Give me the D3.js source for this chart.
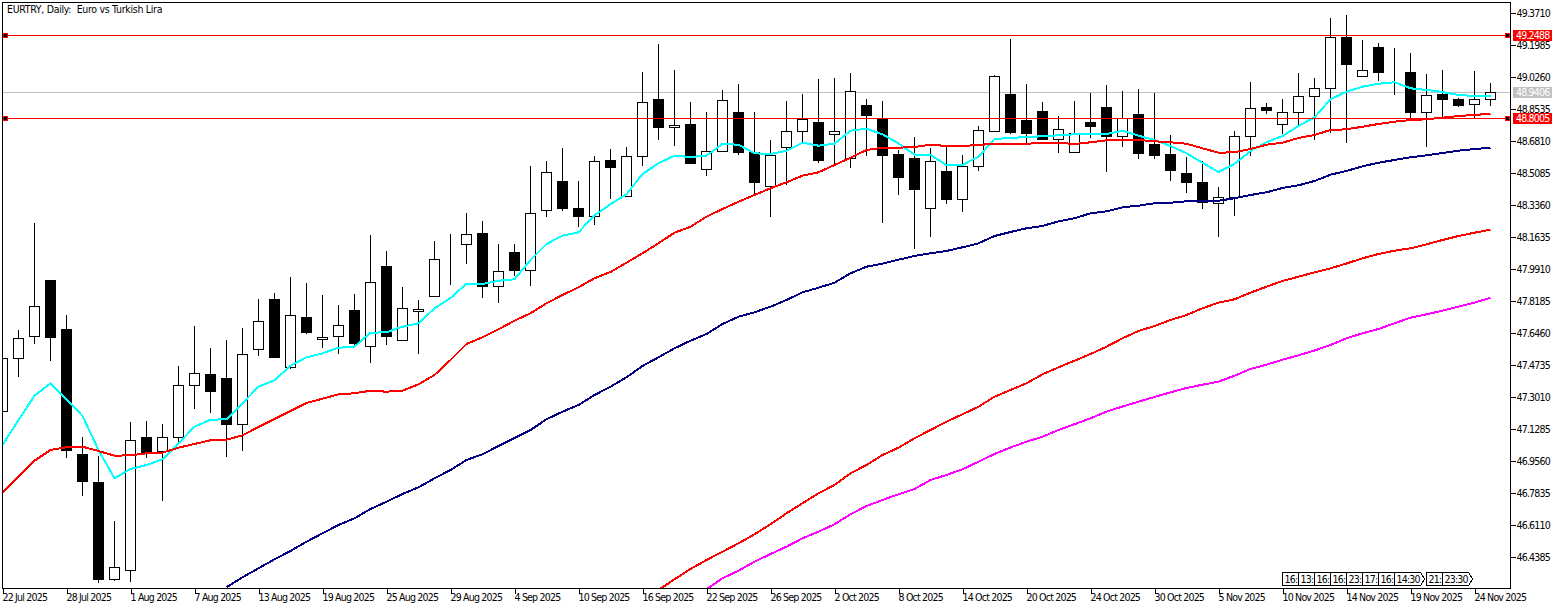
<!DOCTYPE html>
<html>
<head>
<meta charset="utf-8">
<title>EURTRY, Daily</title>
<script src="https://cdn.jsdelivr.net/npm/d3@7"></script>
<style>
    html, body { margin: 0; padding: 0; background: #fff; }
    svg { display: block; }
    text { font-family: "DejaVu Sans Condensed", "DejaVu Sans", sans-serif; font-stretch: condensed; font-size: 10.5px; letter-spacing: -0.8px; fill: #000; white-space: pre; }
    .axis path, .axis line { stroke: #000; shape-rendering: crispEdges; }
    .ma { fill: none; stroke-width: 2; shape-rendering: crispEdges; }
</style>
</head>
<body>
<svg width="1563" height="609"></svg>
<script>
// Daily candles, oldest first
const opens = [47.2212,47.5069,47.6255,47.9290,47.6595,46.9857,46.8401,46.3156,46.3641,47.0773,47.0056,47.0811,47.3614,47.4169,47.4007,47.1511,47.5554,47.8212,47.4584,47.7242,47.6094,47.6255,47.7619,47.5716,47.9991,47.6040,47.7603,47.8411,48.0335,48.1215,48.1770,47.8951,48.0746,47.9829,48.3047,48.4573,48.3171,48.2724,48.5705,48.3802,48.5958,48.9047,48.7522,48.7646,48.5258,48.6228,48.8293,48.6174,48.4341,48.6444,48.7306,48.7754,48.7144,48.5851,48.8670,48.7985,48.6029,48.5813,48.3155,48.5112,48.3640,48.5419,48.7306,48.9263,48.7915,48.8400,48.6875,48.6174,48.7807,48.8562,48.7015,48.8185,48.6568,48.6029,48.5058,48.4557,48.3425,48.3711,48.7037,48.8562,48.7683,48.8330,48.9193,48.9624,49.2389,49.0271,49.1797,49.0449,49.0449,48.8330,48.9263,48.9047,48.8762,48.9031];
const highs = [47.5786,47.6595,48.2363,47.9290,47.7457,47.0827,46.9803,46.6299,47.1636,47.1743,47.1528,47.4708,47.6864,47.5625,47.6056,47.6703,47.8266,47.8643,47.9452,47.9182,47.8482,47.7996,47.8536,48.1716,48.0854,47.8913,47.8212,48.1393,48.1770,48.2902,48.2471,48.1231,48.1231,48.5489,48.5705,48.6406,48.4627,48.5975,48.6352,48.6460,49.0503,49.2012,49.0611,48.8886,48.8400,48.9586,48.9856,48.8400,48.6837,48.8993,48.9317,49.0179,49.0233,49.0449,48.9101,48.8993,48.6298,48.6999,48.6406,48.6514,48.6082,48.7592,49.0341,49.2282,48.9856,48.8939,48.8131,48.8993,48.9371,48.9802,48.9532,48.9640,48.9371,48.7160,48.5921,48.5705,48.4357,48.7376,48.9964,48.8832,48.9101,49.0449,49.0233,49.3414,49.3629,49.2228,49.2066,49.1850,49.1527,49.0395,49.0611,48.9139,49.0557,48.9910];
const lows = [47.2013,47.4077,47.5856,47.4940,46.9711,46.7662,46.2973,46.3080,46.3026,46.9711,46.7393,47.0504,47.2353,47.2137,46.9765,47.0088,47.5247,47.5102,47.4546,47.6395,47.5678,47.5317,47.5678,47.4832,47.5802,47.6040,47.5317,47.8374,47.9021,48.0169,47.8336,47.8104,47.9506,47.8967,48.2702,48.3026,48.2201,48.2271,48.3657,48.3781,48.5452,48.6837,48.6530,48.5560,48.4913,48.6228,48.6082,48.3910,48.2702,48.4428,48.6692,48.5613,48.5527,48.5344,48.5991,48.2379,48.3888,48.0977,48.1624,48.3403,48.2972,48.5182,48.7306,48.7161,48.6659,48.6837,48.6153,48.6174,48.6945,48.5128,48.6460,48.5813,48.5813,48.4643,48.3996,48.3134,48.1624,48.2756,48.5991,48.8255,48.7214,48.7554,48.6875,48.7231,48.6692,49.0271,49.0071,48.9263,48.7915,48.6476,48.8007,48.8616,48.8023,48.8670];
const closes = [47.5069,47.6147,47.7872,47.6180,47.0088,46.8417,46.3135,46.3803,47.0649,47.0018,47.0811,47.3614,47.4261,47.3269,47.1490,47.5285,47.7064,47.5102,47.7387,47.6449,47.6201,47.6848,47.5856,47.9166,47.6255,47.7765,47.7711,48.0406,48.0325,48.1754,47.8929,47.9759,47.9791,48.2886,48.5096,48.3134,48.2702,48.5689,48.5344,48.5958,48.8869,48.7500,48.7630,48.5560,48.6228,48.8977,48.6153,48.4535,48.6012,48.7306,48.7953,48.5721,48.7306,48.9462,48.8147,48.5991,48.4805,48.4158,48.5689,48.3619,48.5419,48.7360,49.0271,48.7231,48.7177,48.6853,48.7414,48.7198,48.7554,48.7015,48.7985,48.6099,48.5991,48.5182,48.4535,48.3479,48.3748,48.7037,48.8546,48.8417,48.8330,48.9193,48.9624,49.2373,49.0896,49.0594,49.0465,49.0449,48.8309,48.9247,48.9010,48.8686,48.9031,48.9406];

// Moving averages, each starts at the bar given by its *Start constant
const maFast = [47.0396,47.1743,47.3053,47.3722,47.2859,47.1959,47.0126,46.8600,46.9102,46.9317,46.9625,47.0487,47.1382,47.1759,47.1781,47.2644,47.3538,47.3883,47.4670,47.5123,47.5339,47.5641,47.5695,47.6449,47.6471,47.6773,47.6956,47.7765,47.8320,47.9091,47.9075,47.9252,47.9328,48.0368,48.1231,48.1678,48.1862,48.2778,48.3371,48.3910,48.5004,48.5581,48.5991,48.5921,48.5991,48.6621,48.6584,48.6120,48.6082,48.6260,48.6692,48.6530,48.6638,48.7338,48.7446,48.7144,48.6659,48.6045,48.6029,48.5489,48.5489,48.5937,48.6891,48.6945,48.6999,48.7037,48.7090,48.7144,48.7177,48.7160,48.7338,48.7069,48.6837,48.6514,48.6120,48.5613,48.5112,48.5543,48.6244,48.6713,48.7053,48.7592,48.8061,48.9031,48.9441,48.9710,48.9872,48.9948,48.9624,48.9532,48.9425,48.9263,48.9209,48.9209];
const maMedium = [46.7846,46.8687,46.9549,47.0126,47.0272,47.0304,47.0072,46.9819,46.9840,46.9948,46.9981,47.0250,47.0450,47.0649,47.0681,47.0919,47.1366,47.1797,47.2228,47.2660,47.2892,47.3129,47.3183,47.3323,47.3269,47.3323,47.3667,47.4169,47.4978,47.5840,47.6201,47.6632,47.7096,47.7495,47.8034,47.8482,47.8897,47.9382,47.9721,48.0223,48.0730,48.1269,48.1840,48.2163,48.2702,48.3117,48.3511,48.3872,48.4233,48.4557,48.4913,48.5096,48.5489,48.5883,48.6298,48.6422,48.6422,48.6460,48.6584,48.6514,48.6514,48.6568,48.6638,48.6638,48.6638,48.6675,48.6692,48.6621,48.6713,48.6821,48.6837,48.6837,48.6767,48.6713,48.6638,48.6390,48.6153,48.6174,48.6352,48.6584,48.6692,48.6945,48.7107,48.7376,48.7414,48.7554,48.7700,48.7824,48.7915,48.7953,48.8039,48.8131,48.8185,48.8255];
const maSlowStart = 14;
const maSlow = [46.2725,46.3264,46.3749,46.4234,46.4682,46.5183,46.5635,46.6083,46.6444,46.6946,46.7339,46.7754,46.8115,46.8600,46.9048,46.9587,46.9894,47.0342,47.0773,47.1204,47.1781,47.2191,47.2552,47.3091,47.3538,47.4045,47.4654,47.5123,47.5608,47.6018,47.6379,47.6918,47.7312,47.7549,47.7851,47.8212,47.8627,47.8875,47.9145,47.9651,48.0007,48.0169,48.0384,48.0584,48.0730,48.0854,48.1053,48.1269,48.1662,48.1878,48.2077,48.2201,48.2454,48.2616,48.2886,48.2994,48.3209,48.3296,48.3425,48.3457,48.3533,48.3549,48.3565,48.3694,48.3872,48.4018,48.4250,48.4395,48.4627,48.4967,48.5166,48.5419,48.5613,48.5759,48.5904,48.6012,48.6136,48.6260,48.6352,48.6422];
const maLongStart = 41;
const maLong = [46.2579,46.3156,46.3711,46.4196,46.4644,46.5096,46.5581,46.6120,46.6714,46.7253,46.7792,46.8239,46.8870,46.9317,46.9857,47.0250,47.0757,47.1204,47.1651,47.2051,47.2460,47.2999,47.3361,47.3722,47.4207,47.4584,47.4940,47.5301,47.5695,47.6147,47.6541,47.6810,47.7134,47.7403,47.7765,47.8067,47.8250,47.8606,47.8929,47.9236,47.9468,47.9705,47.9921,48.0180,48.0460,48.0692,48.0870,48.0999,48.1215,48.1446,48.1662,48.1840,48.2002];
const maLongestStart = 44;
const maLongest = [46.2617,46.3210,46.3620,46.4104,46.4520,46.4914,46.5366,46.5722,46.6120,46.6660,46.7107,46.7431,46.7738,46.8024,46.8509,46.8779,46.9085,46.9495,46.9911,47.0261,47.0573,47.0843,47.1204,47.1517,47.1835,47.2191,47.2471,47.2730,47.2983,47.3236,47.3468,47.3646,47.3808,47.4131,47.4492,47.4724,47.4994,47.5231,47.5490,47.5786,47.6147,47.6417,47.6649,47.6956,47.7258,47.7441,47.7635,47.7851,47.8067,47.8336];

// Tick labels
const priceTicks = [49.3710,49.1985,49.0260,48.8535,48.6810,48.5085,48.3360,48.1635,47.9910,47.8185,47.6460,47.4735,47.3010,47.1285,46.9560,46.7835,46.6110,46.4385];
const dateLabels = ["22 Jul 2025","28 Jul 2025","1 Aug 2025","7 Aug 2025","13 Aug 2025","19 Aug 2025","25 Aug 2025","29 Aug 2025","4 Sep 2025","10 Sep 2025","16 Sep 2025","22 Sep 2025","26 Sep 2025","2 Oct 2025","8 Oct 2025","14 Oct 2025","20 Oct 2025","24 Oct 2025","30 Oct 2025","5 Nov 2025","10 Nov 2025","14 Nov 2025","19 Nov 2025","24 Nov 2025"];
const dateEvery = 4;

// Horizontal price levels
const levelHigh = 49.2488;
const levelLow = 48.8005;
const lastPrice = 48.9406;

// Time flags along the bottom of the chart
const flagBars = [80,81,82,83,84,85,86,87,89,90];
const flagLabels = ["16:","13:","16:","16:","23:","17:","16:","14:30","21:","23:30"];

const svg = d3.select("svg");
const left = 2.5, right = 1510.5, top_ = 2.5, bottom = 588.5;

const x = d3.scaleLinear().domain([0, opens.length - 1]).range([2.5, 1490.5]);
const y = d3.scaleLinear().domain([46.4385, 49.3710]).range([556.5, 12.5]);
const snap = (v) => Math.round(v - 0.5) + 0.5;

svg.append("clipPath").attr("id", "plot")
    .append("rect")
    .attr("x", left).attr("y", top_)
    .attr("width", right - left).attr("height", bottom - top_);

const plot = svg.append("g").attr("clip-path", "url(#plot)");

// Last price line sits behind the candles
plot.append("line")
    .attr("x1", left).attr("x2", right)
    .attr("y1", snap(y(lastPrice))).attr("y2", snap(y(lastPrice)))
    .attr("stroke", "#c0c0c0")
    .attr("shape-rendering", "crispEdges");

// Candles
const bars = d3.range(opens.length);
const candle = plot.append("g").selectAll("g")
    .data(bars)
    .enter()
    .append("g")
    .attr("shape-rendering", "crispEdges");

candle.append("line")
    .attr("x1", (i) => x(i))
    .attr("x2", (i) => x(i))
    .attr("y1", (i) => snap(y(highs[i])))
    .attr("y2", (i) => snap(y(lows[i])))
    .attr("stroke", "#000");

candle.append("rect")
    .attr("x", (i) => x(i) - 5)
    .attr("width", 10)
    .attr("y", (i) => snap(y(Math.max(opens[i], closes[i]))))
    .attr("height", (i) => snap(y(Math.min(opens[i], closes[i]))) - snap(y(Math.max(opens[i], closes[i]))))
    .attr("fill", (i) => (closes[i] >= opens[i] ? "#fff" : "#000"))
    .attr("stroke", "#000");

// Moving averages
const maSeries = [
    { values: maFast, start: 0, color: "#00ffff" },
    { values: maMedium, start: 0, color: "#ff0000" },
    { values: maSlow, start: maSlowStart, color: "#000080" },
    { values: maLong, start: maLongStart, color: "#ff0000" },
    { values: maLongest, start: maLongestStart, color: "#ff00ff" }
];

plot.selectAll("path.ma")
    .data(maSeries)
    .enter()
    .append("path")
    .attr("class", "ma")
    .attr("stroke", (d) => d.color)
    .attr("d", (d) => d3.line()
        .x((v, i) => x(i + d.start))
        .y((v) => y(v))(d.values));

// Horizontal levels with their small end handles
[levelHigh, levelLow].forEach((level) => {
    const ly = snap(y(level));
    plot.append("line")
        .attr("x1", left).attr("x2", right)
        .attr("y1", ly).attr("y2", ly)
        .attr("stroke", "#ff0000")
        .attr("shape-rendering", "crispEdges");
    [3, 1505.5].forEach((hx) => {
        svg.append("rect")
            .attr("x", hx).attr("y", ly - 2)
            .attr("width", 4).attr("height", 4)
            .attr("fill", "#000")
            .attr("stroke", "#ff0000")
            .attr("shape-rendering", "crispEdges");
    });
});

// Frame
svg.append("rect")
    .attr("x", left).attr("y", top_)
    .attr("width", right - left).attr("height", bottom - top_)
    .attr("fill", "none")
    .attr("stroke", "#000")
    .attr("shape-rendering", "crispEdges");

// Price axis
const yAxis = svg.append("g")
    .attr("class", "axis")
    .attr("transform", `translate(${right},0)`)
    .call(d3.axisRight(y).tickValues(priceTicks).tickFormat(d3.format(".4f")).tickSize(5).tickPadding(1));
yAxis.select(".domain").remove();
yAxis.selectAll("text").attr("dy", "0.34em").style("font-size", "10.5px");

// Date axis, labels start at the tick
const dateBars = dateLabels.map((d, i) => i * dateEvery);
const xAxis = svg.append("g")
    .attr("class", "axis")
    .attr("transform", `translate(0,${bottom})`)
    .call(d3.axisBottom(x).tickValues(dateBars).tickFormat((d) => dateLabels[d / dateEvery]).tickSize(5).tickPadding(1));
xAxis.select(".domain").remove();
xAxis.selectAll("text").attr("text-anchor", "start").attr("x", -0.5).attr("y", 5).attr("dy", "0.71em").style("font-size", "10.5px");

// Coloured price tags on the axis
[[levelHigh, "#ff0000"], [lastPrice, "#c0c0c0"], [levelLow, "#ff0000"]].forEach(([price, color]) => {
    const ty = snap(y(price));
    svg.append("rect")
        .attr("x", 1513).attr("y", ty - 5.5)
        .attr("width", 39).attr("height", 11)
        .attr("fill", color);
    svg.append("text")
        .attr("x", 1516).attr("y", ty + 3.5)
        .style("fill", "#fff")
        .text(price.toFixed(4));
});

// Time flags, each later one covers part of the one before
const flag = svg.append("g").selectAll("g")
    .data(flagBars)
    .enter()
    .append("g")
    .attr("transform", (d) => `translate(${x(d)},572.5)`);

flag.append("path")
    .attr("d", (d, i) => {
        const w = flagLabels[i].length > 3 ? 26 : 15;
        return `M0,0H${w}L${w + 4},6.5L${w},13H0Z`;
    })
    .attr("fill", "#fff")
    .attr("stroke", "#000")
    .attr("shape-rendering", "crispEdges");

flag.append("text")
    .attr("x", 2)
    .attr("y", 10)
    .text((d, i) => flagLabels[i]);

// Title
svg.append("text")
    .attr("x", 7)
    .attr("y", 13)
    .style("letter-spacing", "-0.3px")
    .text("EURTRY, Daily:  Euro vs Turkish Lira");
</script>
</body>
</html>
